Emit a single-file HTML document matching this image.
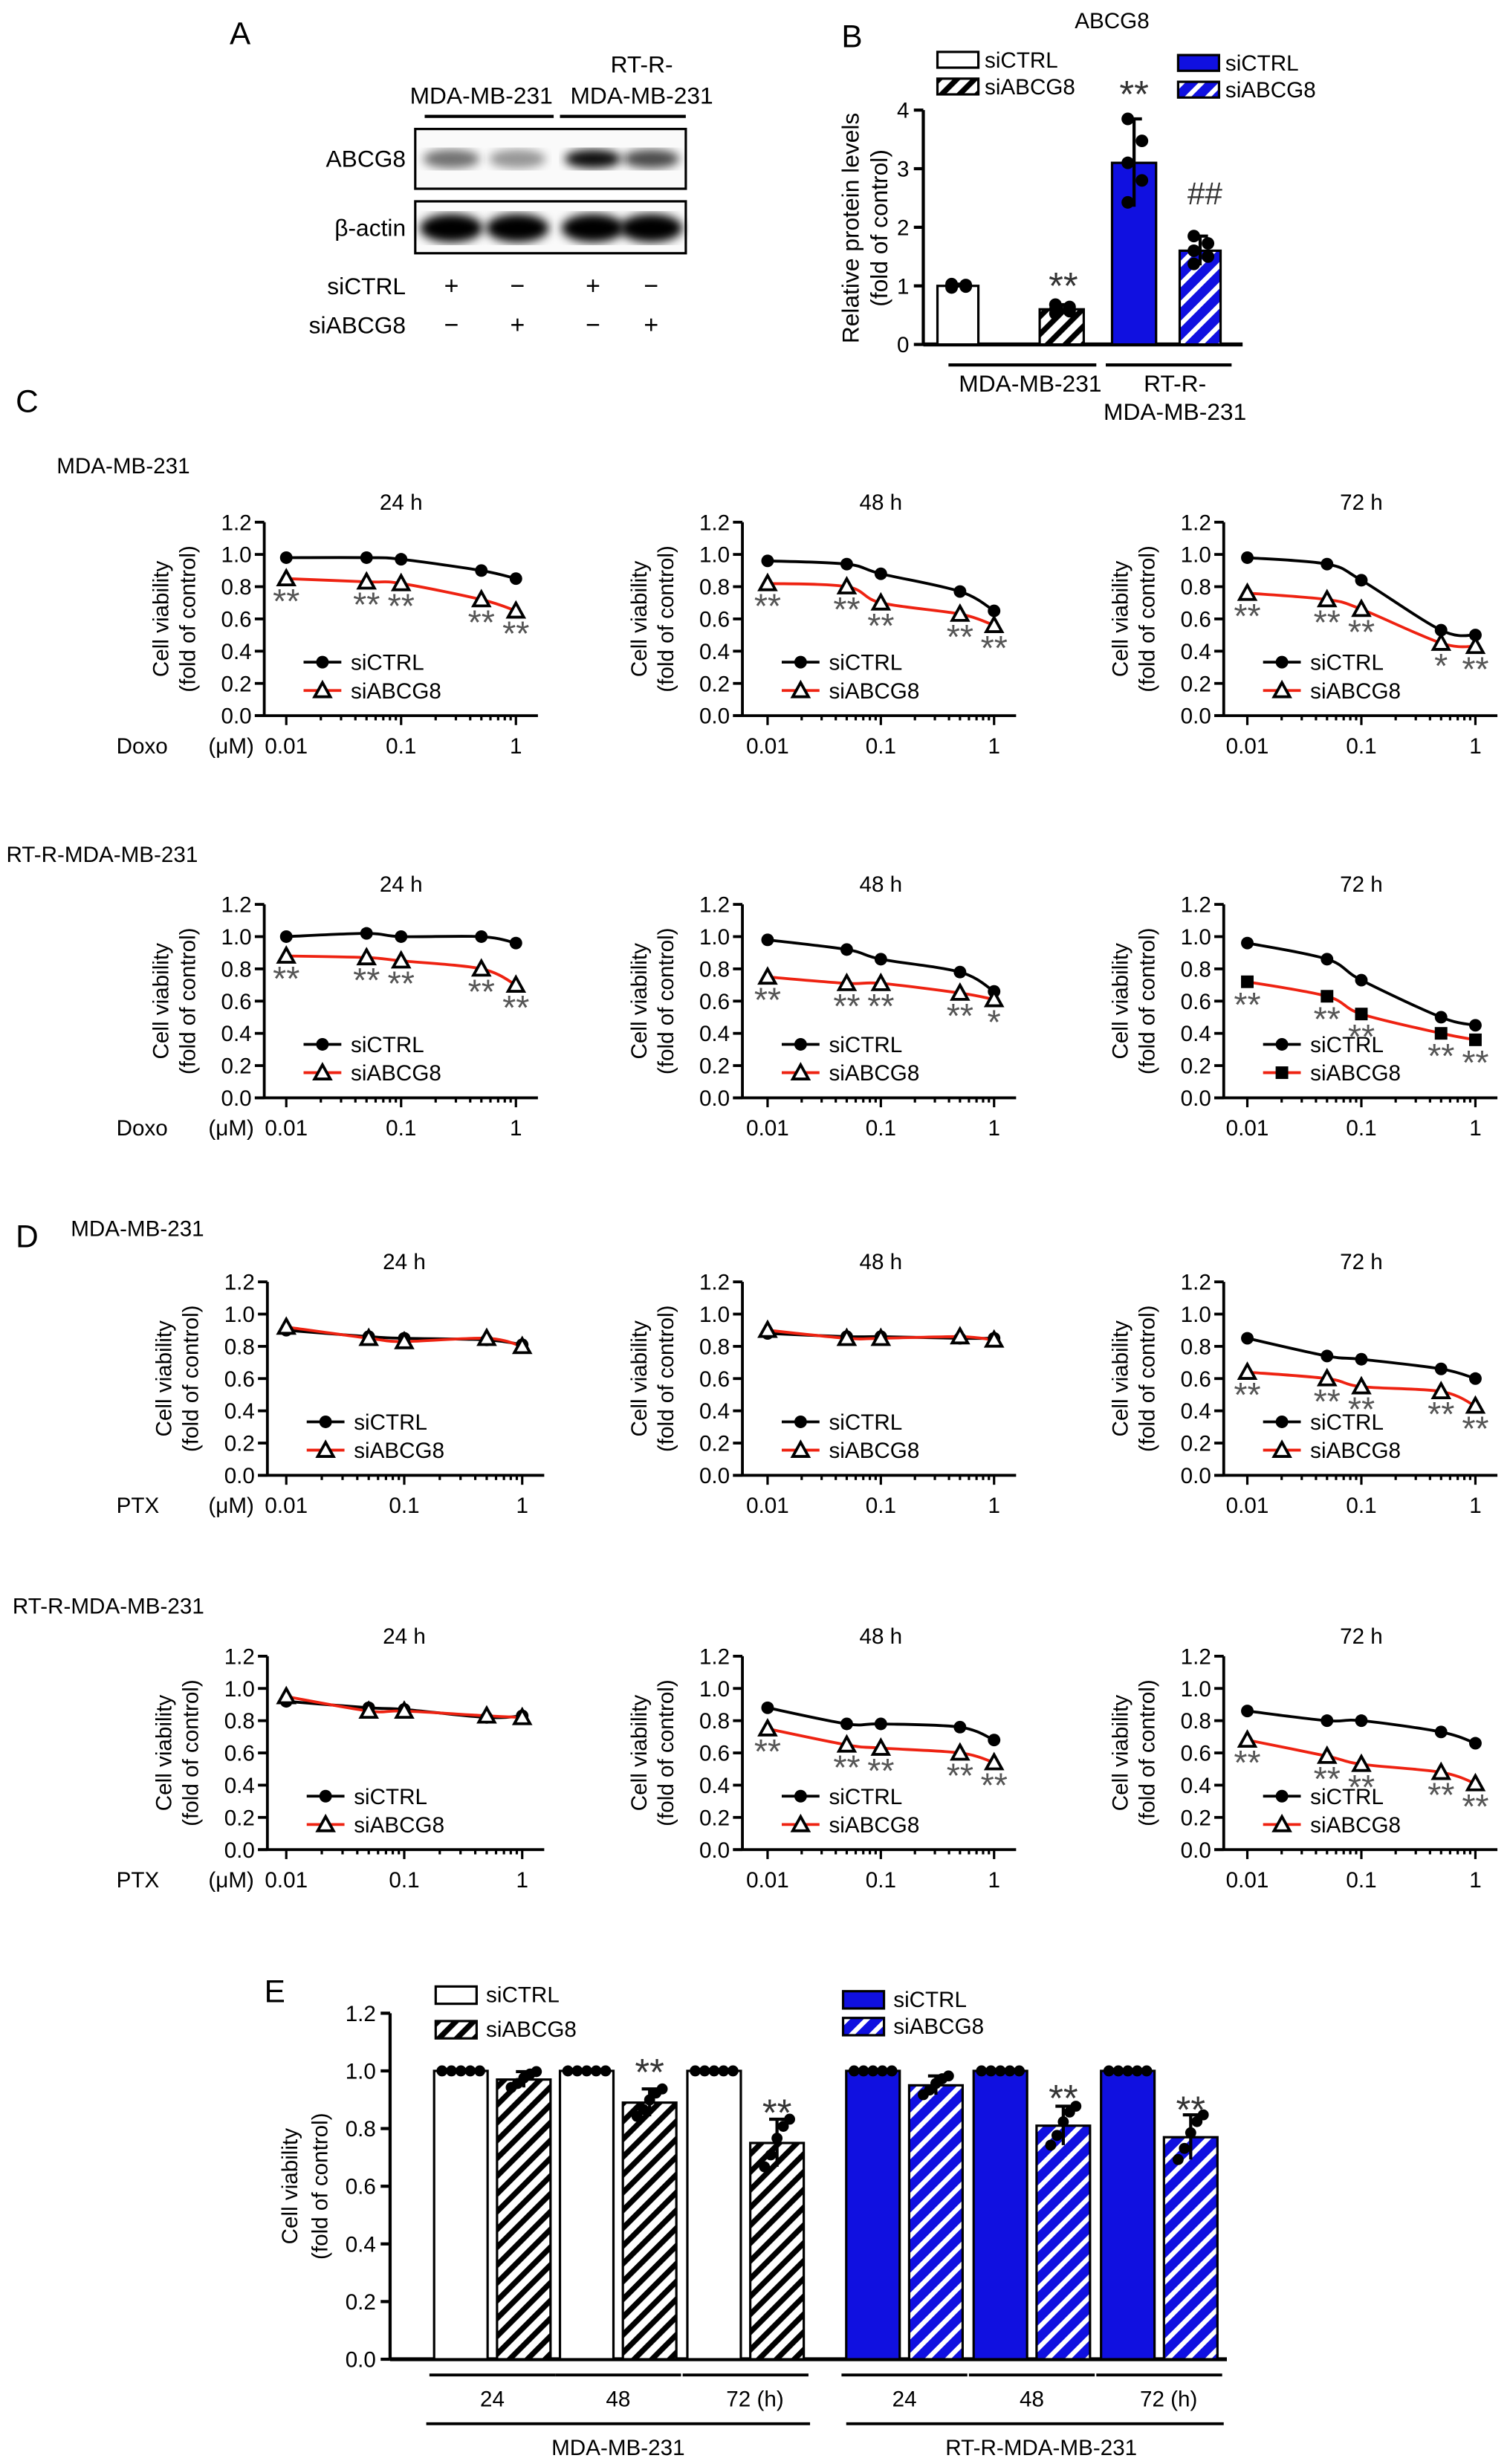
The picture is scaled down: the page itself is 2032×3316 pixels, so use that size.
<!DOCTYPE html>
<html><head><meta charset="utf-8"><style>
html,body{margin:0;padding:0;background:#fff}
svg{display:block;font-family:"Liberation Sans",sans-serif}
</style></head><body>
<svg id="fig" width="2032" height="3316" viewBox="0 0 960 1566.6" xmlns="http://www.w3.org/2000/svg">
<defs>
<pattern id="hatchK" patternUnits="userSpaceOnUse" width="8" height="8" patternTransform="rotate(45)"><rect width="8" height="8" fill="#fff"/><rect width="3.5" height="8" fill="#000"/></pattern>
<pattern id="hatchB" patternUnits="userSpaceOnUse" width="9" height="9" patternTransform="rotate(45)"><rect width="9" height="9" fill="#1010e0"/><rect width="3" height="9" fill="#fff"/></pattern>
<filter id="blur"><feGaussianBlur stdDeviation="3"/></filter>
</defs>
<g id="root"></g>
</svg>
<script>
// ---------- Panel B data ----------
const bCats = ['MDA siCTRL','MDA siABCG8','RT-R siCTRL','RT-R siABCG8'];
const bVals = [1.0, 0.6, 3.1, 1.6];
const bErr = [0.03, 0.08, 0.75, 0.25];
const bTicks = [0,1,2,3,4];
// ---------- Line chart data (doses) ----------
const doses = [0.01, 0.05, 0.1, 0.5, 1];
const xTickLabels = ['0.01','0.1','1'];
const yTickLabels = ['0.0','0.2','0.4','0.6','0.8','1.0','1.2'];
const c1Ctrl=[0.98,0.98,0.97,0.90,0.85], c1Si=[0.85,0.83,0.82,0.72,0.65];
const c2Ctrl=[0.96,0.94,0.88,0.77,0.65], c2Si=[0.82,0.80,0.70,0.63,0.56];
const c3Ctrl=[0.98,0.94,0.84,0.53,0.50], c3Si=[0.76,0.72,0.66,0.45,0.43];
const c4Ctrl=[1.00,1.02,1.00,1.00,0.96], c4Si=[0.88,0.87,0.85,0.80,0.70];
const c5Ctrl=[0.98,0.92,0.86,0.78,0.66], c5Si=[0.75,0.71,0.71,0.65,0.61];
const c6Ctrl=[0.96,0.86,0.73,0.50,0.45], c6Si=[0.72,0.63,0.52,0.40,0.36];
const d1Ctrl=[0.90,0.86,0.85,0.84,0.81], d1Si=[0.92,0.85,0.83,0.85,0.80];
const d2Ctrl=[0.88,0.86,0.86,0.85,0.85], d2Si=[0.90,0.85,0.85,0.86,0.84];
const d3Ctrl=[0.85,0.74,0.72,0.66,0.60], d3Si=[0.64,0.60,0.55,0.52,0.43];
const d4Ctrl=[0.92,0.88,0.87,0.82,0.83], d4Si=[0.95,0.86,0.86,0.83,0.82];
const d5Ctrl=[0.88,0.78,0.78,0.76,0.68], d5Si=[0.75,0.65,0.63,0.60,0.54];
const d6Ctrl=[0.86,0.80,0.80,0.73,0.66], d6Si=[0.68,0.58,0.53,0.48,0.41];
const sigAll=['**','**','**','**','**'];
const sigC3=['**','**','**','*','**'];
const sigC5=['**','**','**','**','*'];
const sigNone=['','','','',''];
// ---------- Panel E data ----------
const eCats=['24','48','72 (h)'];
const eMdaCtrl=[1,1,1], eMdaSi=[0.97,0.89,0.75];
const eRtCtrl=[1,1,1], eRtSi=[0.95,0.81,0.77];
const eTicks=[0,0.2,0.4,0.6,0.8,1.0,1.2];

const NS='http://www.w3.org/2000/svg';
const root=document.getElementById('root');
function mk(tag,attrs,parent,text){const e=document.createElementNS(NS,tag);for(const k in attrs)e.setAttribute(k,attrs[k]);if(text!==undefined)e.textContent=text;(parent||root).appendChild(e);return e;}
function txt(x,y,s,size,anchor,parent,name,extra){const e=mk('text',Object.assign({x:x,y:y,'font-size':size,'text-anchor':anchor||'start',fill:'#000'},extra||{}),parent,s);


return e;}
function line(x1,y1,x2,y2,w,parent,col){return mk('line',{x1:x1,y1:y1,x2:x2,y2:y2,stroke:col||'#000','stroke-width':w||1.5},parent);}

// ---------- Panel A ----------
const gA=mk('g',{});


txt(146,28,'A',20,'start',gA,'panel-a-label');
txt(306,66,'MDA-MB-231',15,'middle',gA,'lane-group-mda');
txt(408,46,'RT-R-',15,'middle',gA,'lane-group-rtr-line1');
txt(408,66,'MDA-MB-231',15,'middle',gA,'lane-group-rtr-line2');
line(270,74,352,74,2,gA);line(356,74,436,74,2,gA);
mk('rect',{x:264,y:82,width:172,height:38,fill:'#fafafa',stroke:'#000','stroke-width':1.5},gA);
mk('rect',{x:264,y:128,width:172,height:33,fill:'#fafafa',stroke:'#000','stroke-width':1.5},gA);
const lanes=[287,329,377,414];
const abcg=[0.55,0.4,0.95,0.7];
lanes.forEach((lx,i)=>{mk('ellipse',{cx:lx,cy:101,rx:18,ry:6,fill:'#000',opacity:abcg[i],filter:'url(#blur)'},gA);
mk('ellipse',{cx:lx,cy:145,rx:20,ry:9,fill:'#000',filter:'url(#blur)'},gA);});
txt(258,106,'ABCG8',15,'end',gA,'abcg8-row-label');
txt(258,150,'β-actin',15,'end',gA,'beta-actin-row-label');
txt(258,187,'siCTRL',15,'end',gA,'sictrl-row-label');
txt(258,212,'siABCG8',15,'end',gA,'siabcg8-row-label');
['+','−','+','−'].forEach((s,i)=>txt(lanes[i],187,s,16,'middle',gA,'sictrl-sign'));
['−','+','−','+'].forEach((s,i)=>txt(lanes[i],212,s,16,'middle',gA,'siabcg8-sign'));

// ---------- Panel B ----------
const gB=mk('g',{});


txt(535,30,'B',20,'start',gB,'panel-b-label');
txt(707,18,'ABCG8',14,'middle',gB,'panel-b-title');
const bY0=219,bY4=70,bAx=587;
const by=v=>bY0-(bY0-bY4)*v/4;
line(bAx,bY4,bAx,bY0,2,gB);line(bAx,bY0,790,bY0,2.5,gB);
bTicks.forEach(t=>{line(bAx-6,by(t),bAx,by(t),2,gB);txt(bAx-9,by(t)+5,String(t),14,'end',gB,'b-y-tick-label');});
const bX=[609,675,721,763],bW=[26,28,28,26];
const bFill=['#fff','url(#hatchK)','#1010e0','url(#hatchB)'];
bVals.forEach((v,i)=>{const r=mk('rect',{x:bX[i]-bW[i]/2,y:by(v),width:bW[i],height:bY0-by(v),fill:bFill[i],stroke:'#000','stroke-width':1.5},gB);


line(bX[i],by(v-bErr[i]),bX[i],by(v+bErr[i]),2,gB);line(bX[i]-5,by(v+bErr[i]),bX[i]+5,by(v+bErr[i]),2,gB);
[-0.9,-0.4,0,0.5,1].forEach((o,k)=>mk('circle',{cx:bX[i]+(k%2?5:-4),cy:by(v+o*bErr[i]),r:4,fill:'#000'},gB));});
txt(676,190,'**',24,'middle',gB,'b-sig-1',{fill:'#333'});
txt(721,68,'**',24,'middle',gB,'b-sig-2',{fill:'#333'});
txt(766,130,'##',20,'middle',gB,'b-sig-3',{fill:'#333'});
line(603,232,697,232,2,gB);line(703,232,783,232,2,gB);
txt(655,249,'MDA-MB-231',15,'middle',gB,'b-group-mda');
txt(747,249,'RT-R-',15,'middle',gB,'b-group-rtr1');
txt(747,267,'MDA-MB-231',15,'middle',gB,'b-group-rtr2');
txt(0,0,'Relative protein levels',15,'middle',gB,'b-y-axis-title',{transform:'translate(546,145) rotate(-90)'});
txt(0,0,'(fold of control)',15,'middle',gB,'b-y-axis-title2',{transform:'translate(564,145) rotate(-90)'});
[[596,38,'#fff','siCTRL'],[596,55,'url(#hatchK)','siABCG8'],[749,40,'#1010e0','siCTRL'],[749,57,'url(#hatchB)','siABCG8']].forEach((l,i)=>{
mk('rect',{x:l[0],y:l[1]-5,width:26,height:10,fill:l[2],stroke:'#000','stroke-width':1.5},gB);
txt(l[0]+30,l[1]+5,l[3],14,'start',gB,'b-legend-entry');});

// ---------- Line charts ----------
function lineChart(cfg){
 const g=mk('g',{});
 
 
 const yB=cfg.yb,yT=cfg.yb-123,ax=cfg.ax,x0=cfg.x0,x1=cfg.x1;
 const sx=d=>x0+(Math.log10(d)+2)/2*(x1-x0);
 const sy=v=>yB-(yB-yT)*v/1.2;
 line(ax,yT,ax,yB,1.8,g);line(ax-6,yB,x1+14,yB,1.8,g);
 yTickLabels.forEach((t,i)=>{const v=i*0.2;line(ax-6,sy(v),ax,sy(v),1.8,g);txt(ax-8,sy(v)+5,t,14,'end',g,'y-tick-label');});
 for(let e=-2;e<=0;e++){for(let m=1;m<=9;m++){const d=m*Math.pow(10,e);if(d>1.2)break;line(sx(d),yB,sx(d),yB+(m==1?6:3),1.5,g);}}
 xTickLabels.forEach((t,i)=>txt(sx(Math.pow(10,i-2)),cfg.yb+24,t,14,'middle',g,'x-tick-label'));
 txt((x0+x1)/2,yT-8,cfg.title,14,'middle',g,'chart-title');
 txt(0,0,'Cell viability',14,'middle',g,'y-axis-title',{transform:`translate(${ax-61},${(yT+yB)/2}) rotate(-90)`});
 txt(0,0,'(fold of control)',14,'middle',g,'y-axis-title2',{transform:`translate(${ax-44},${(yT+yB)/2}) rotate(-90)`});
 if(cfg.drug){txt(74,cfg.yb+24,cfg.drug,14,'start',g,'drug-label');txt(147,cfg.yb+24,'(μM)',14,'middle',g,'unit-label');}
 function curve(vals,col){let p='';const pts=doses.map((d,i)=>[sx(d),sy(vals[i])]);
  p='M'+pts[0][0]+','+pts[0][1];
  for(let i=0;i<pts.length-1;i++){const a=pts[Math.max(0,i-1)],b=pts[i],c=pts[i+1],d=pts[Math.min(pts.length-1,i+2)];
   p+=` C${b[0]+(c[0]-a[0])/6},${b[1]+(c[1]-a[1])/6} ${c[0]-(d[0]-b[0])/6},${c[1]-(d[1]-b[1])/6} ${c[0]},${c[1]}`;}
  const e=mk('path',{d:p,fill:'none',stroke:col,'stroke-width':1.8},g);
  
  }
 curve(cfg.ctrl,'#000');curve(cfg.si,'#e21');
 function marker(x,y,type,parent){if(type==='c')return mk('circle',{cx:x,cy:y,r:4,fill:'#000'},parent);
  if(type==='s')return mk('rect',{x:x-4,y:y-4,width:8,height:8,fill:'#000'},parent);
  return mk('path',{d:`M${x},${y-5} L${x+5},${y+4} L${x-5},${y+4}Z`,fill:'#fff',stroke:'#000','stroke-width':1.8},parent);}
 doses.forEach((d,i)=>{const m=marker(sx(d),sy(cfg.ctrl[i]),'c',g);
  
  
  const n=marker(sx(d),sy(cfg.si[i]),cfg.siM||'t',g);
  
  
  if(cfg.sig[i])txt(sx(d),sy(cfg.si[i])+22,cfg.sig[i],22,'middle',g,'sig-marker',{fill:'#555'});});
 const lx=ax+25,ly1=yB-34,ly2=yB-16;
 line(lx,ly1,lx+24,ly1,1.8,g);marker(lx+12,ly1,'c',g);txt(lx+30,ly1+5,'siCTRL',14,'start',g,'legend-sictrl');
 line(lx,ly2,lx+24,ly2,1.8,g,'#e21');marker(lx+12,ly2,cfg.siM||'t',g);txt(lx+30,ly2+5,'siABCG8',14,'start',g,'legend-siabcg8');
}
txt(10,262,'C',20,'start',root,'panel-c-label');
txt(36,301,'MDA-MB-231',14,'start',root,'c-row1-label');
txt(4,548,'RT-R-MDA-MB-231',14,'start',root,'c-row2-label');
txt(10,793,'D',20,'start',root,'panel-d-label');
txt(45,786,'MDA-MB-231',14,'start',root,'d-row1-label');
txt(8,1026,'RT-R-MDA-MB-231',14,'start',root,'d-row2-label');
const cols=[[168,182,328],[472,488,632],[778,793,938]];
const rows=[[455,'Doxo'],[698,'Doxo'],[938,'PTX'],[1176,'PTX']];
const data=[[c1Ctrl,c1Si,sigAll],[c2Ctrl,c2Si,sigAll],[c3Ctrl,c3Si,sigC3],
[c4Ctrl,c4Si,sigAll],[c5Ctrl,c5Si,sigC5],[c6Ctrl,c6Si,sigAll],
[d1Ctrl,d1Si,sigNone],[d2Ctrl,d2Si,sigNone],[d3Ctrl,d3Si,sigAll],
[d4Ctrl,d4Si,sigNone],[d5Ctrl,d5Si,sigAll],[d6Ctrl,d6Si,sigAll]];
const titles=['24 h','48 h','72 h'];
rows.forEach((r,ri)=>cols.forEach((c,ci)=>{const k=ri*3+ci;
 lineChart({name:'chart-'+(ri<2?'c':'d')+'-row'+(ri%2+1)+'-'+titles[ci].replace(' ',''),ax:c[0]+(ri>=2&&ci==0?2:0),x0:c[1],x1:c[2]+(ri>=2&&ci==0?4:0),yb:r[0],title:titles[ci],drug:ci==0?r[1]:null,ctrl:data[k][0],si:data[k][1],sig:data[k][2],siM:(k==5?'s':'t')});}));

// ---------- Panel E ----------
const gE=mk('g',{});


txt(168,1273,'E',20,'start',gE,'panel-e-label');
const eY0=1500,eYT=1280,eAx=248;
const ey=v=>eY0-(eY0-eYT)*v/1.2;
line(eAx,eYT,eAx,eY0,2,gE);line(eAx,eY0,780,eY0,2.5,gE);
eTicks.forEach(t=>{line(eAx-6,ey(t),eAx,ey(t),2,gE);txt(eAx-9,ey(t)+5,t.toFixed(1),14,'end',gE,'e-y-tick-label');});
txt(0,0,'Cell viability',14,'middle',gE,'e-y-axis-title',{transform:`translate(189,1390) rotate(-90)`});
txt(0,0,'(fold of control)',14,'middle',gE,'e-y-axis-title2',{transform:`translate(208,1390) rotate(-90)`});
const eMdaX=[293,373,454],eRtX=[555,636,717],eGap=40,eBW=34;
function eBar(x,v,fill,name,pts){const r=mk('rect',{x:x-eBW/2,y:ey(v),width:eBW,height:eY0-ey(v),fill:fill,stroke:'#000','stroke-width':1.5},gE);


if(pts){const e=(1-v)*0.25+0.02;line(x,ey(v-e),x,ey(v+e),2,gE);line(x-5,ey(v+e),x+5,ey(v+e),2,gE);
[-1,-0.5,0.2,0.7,1].forEach((o,k)=>mk('circle',{cx:x+(k-2)*4,cy:ey(v+o*e),r:3.5,fill:'#000'},gE));}
else{[-8,-4,0,4,8].forEach(o=>mk('circle',{cx:x+o*1.5,cy:ey(v),r:3.5,fill:'#000'},gE));}}
eCats.forEach((c,i)=>{eBar(eMdaX[i],eMdaCtrl[i],'#fff','e-mda-sictrl-bar');eBar(eMdaX[i]+eGap,eMdaSi[i],'url(#hatchK)','e-mda-siabcg8-bar',1);
eBar(eRtX[i],eRtCtrl[i],'#1010e0','e-rtr-sictrl-bar');eBar(eRtX[i]+eGap,eRtSi[i],'url(#hatchB)','e-rtr-siabcg8-bar',1);
line(eMdaX[i]-20,1510,eMdaX[i]+eGap+20,1510,1.8,gE);line(eRtX[i]-20,1510,eRtX[i]+eGap+20,1510,1.8,gE);
txt(eMdaX[i]+eGap/2+(i==2?6:0),1530,c,14,'middle',gE,'e-x-label');txt(eRtX[i]+eGap/2+(i==2?6:0),1530,c,14,'middle',gE,'e-x-label');
if(i>0){txt(eMdaX[i]+eGap,ey(eMdaSi[i]+0.05)-2,'**',24,'middle',gE,'e-sig',{fill:'#333'});txt(eRtX[i]+eGap,ey(eRtSi[i]+0.04)-2,'**',24,'middle',gE,'e-sig',{fill:'#333'});}});
line(271,1541,515,1541,1.8,gE);line(538,1541,778,1541,1.8,gE);
txt(393,1561,'MDA-MB-231',14,'middle',gE,'e-group-mda');
txt(662,1561,'RT-R-MDA-MB-231',14,'middle',gE,'e-group-rtr');
[[277,1268,'#fff','siCTRL'],[277,1290,'url(#hatchK)','siABCG8'],[536,1271,'#1010e0','siCTRL'],[536,1288,'url(#hatchB)','siABCG8']].forEach(l=>{
mk('rect',{x:l[0],y:l[1]-5,width:26,height:11,fill:l[2],stroke:'#000','stroke-width':1.5},gE);
txt(l[0]+32,l[1]+5,l[3],14,'start',gE,'e-legend-entry');});
</script>
</body></html>
